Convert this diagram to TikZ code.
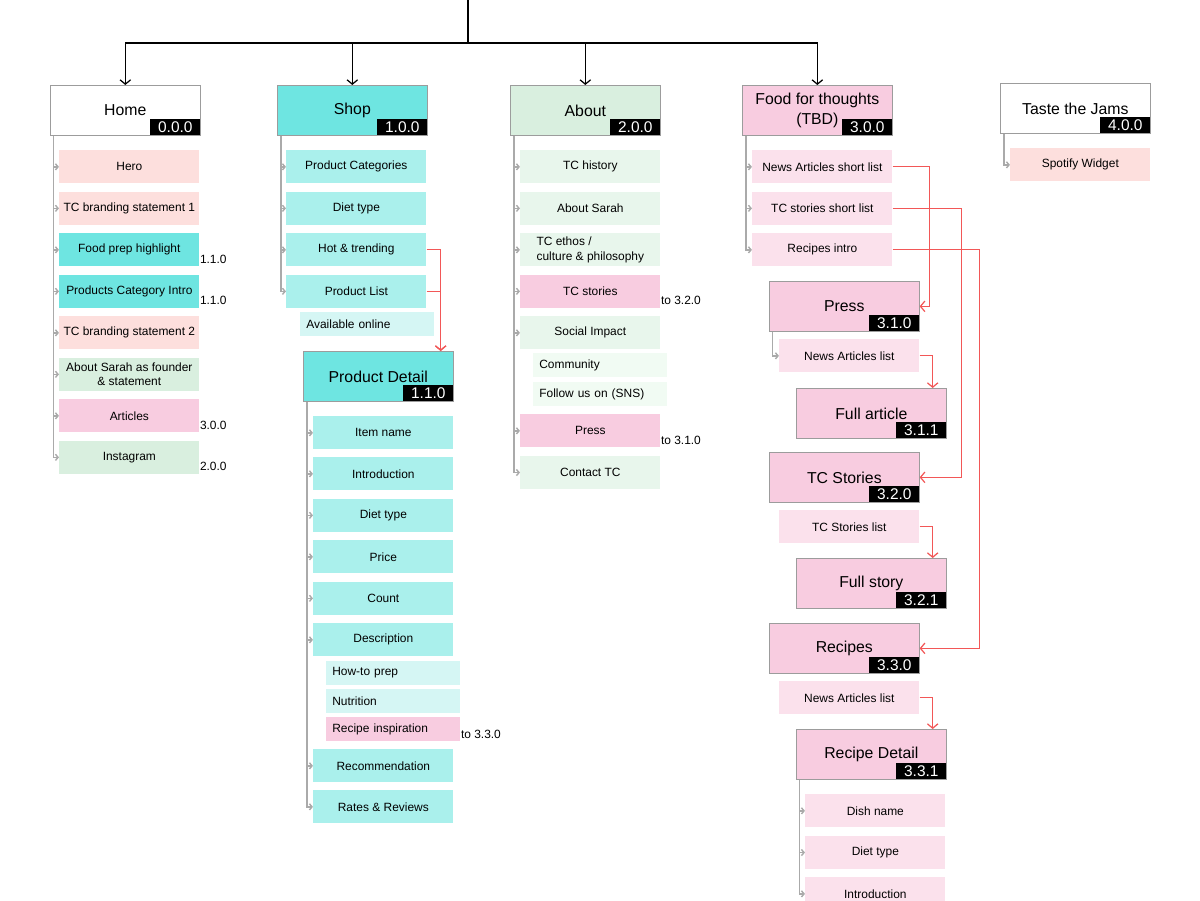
\documentclass[tikz,border=0pt]{standalone}
\usepackage{fontspec}
\setmainfont{Liberation Sans}
\usetikzlibrary{arrows.meta}
\definecolor{boxgray}{HTML}{9C9C9C}
\definecolor{treegray}{HTML}{AAAAAA}
\definecolor{linkred}{HTML}{F25757}
\definecolor{salmon}{HTML}{FDDFDD}
\definecolor{pinkH}{HTML}{F8CCE0}
\definecolor{pinkL}{HTML}{FBE1EC}
\definecolor{cyanH}{HTML}{6EE5E1}
\definecolor{cyanL}{HTML}{AAF0EC}
\definecolor{cyanP}{HTML}{D5F6F4}
\definecolor{greenH}{HTML}{D9EFDF}
\definecolor{greenL}{HTML}{E8F6EC}
\definecolor{greenP}{HTML}{F1FBF3}

\begin{document}
\begin{tikzpicture}[x=0.02cm,y=-0.02cm,
    page/.style={draw=boxgray, minimum width=3cm, minimum height=1cm, inner sep=0pt, anchor=north west, font=\fontsize{9}{11}\selectfont},
    ver/.style={fill=black, text=white, minimum width=1cm, minimum height=0.32cm, inner sep=0pt, anchor=south east, font=\fontsize{8.8}{9}\selectfont},
    item/.style={minimum width=2.8cm, minimum height=0.66cm, inner sep=0pt, anchor=north west, font=\fontsize{6.8}{8.2}\selectfont},
    sub/.style={minimum width=2.68cm, minimum height=0.48cm, inner xsep=0.12cm, inner ysep=0pt, text width=2.44cm, align=left, anchor=north west, font=\fontsize{6.8}{8.2}\selectfont},
    note/.style={anchor=base west, inner sep=0pt, font=\fontsize{6.8}{8.2}\selectfont},
    tree/.style={draw=treegray, line width=0.8pt, -{Straight Barb[length=1.5pt,width=3.5pt]}},
    main/.style={draw=black, line width=0.7pt, -{Straight Barb[length=2.5pt,width=6pt]}},
    link/.style={draw=linkred, line width=0.7pt, -{Straight Barb[length=2.5pt,width=6pt]}}]
    \path[use as bounding box, fill=white] (0,0) rectangle (1200,900);

    % top level pages
    \node[page] (home) at (50,85) {Home};
    \node[ver] (homeV) at (home.south east) {0.0.0};
    \node[page, fill=cyanH] (shop) at (277,85) {Shop};
    \node[ver] (shopV) at (shop.south east) {1.0.0};
    \node[page, fill=greenH] (about) at (510,85) {About};
    \node[ver] (aboutV) at (about.south east) {2.0.0};
    \node[page, fill=pinkH, align=center] (food) at (742,85) {Food for thoughts\\(TBD)};
    \node[ver] (foodV) at (food.south east) {3.0.0};
    \node[page] (jams) at (1000,83) {Taste the Jams};
    \node[ver] (jamsV) at (jams.south east) {4.0.0};

    \coordinate (top) at (468,0);
    \coordinate (bus) at (468,43);
    \draw[line width=0.7pt] (top) -- (bus);
    \foreach \n in {home,shop,about,food}
        \draw[main] (bus) -| (\n.north);

    % Home
    \node[item, fill=salmon] (hero) at (59,150) {Hero};
    \node[item, fill=salmon] (tcbOne) at (59,191.5) {TC branding statement 1};
    \node[item, fill=cyanH] (fprep) at (59,233) {Food prep highlight};
    \node[item, fill=cyanH] (pcat) at (59,274.5) {Products Category Intro};
    \node[item, fill=salmon] (tcbTwo) at (59,316) {TC branding statement 2};
    \node[item, fill=greenH, align=center] (founder) at (59,357.5) {About Sarah as founder\\\& statement};
    \node[item, fill=pinkH] (articles) at (59,399) {Articles};
    \node[item, fill=greenH] (insta) at (59,440.5) {Instagram};
    \node[note] (fprepN) at ([yshift=0.07cm]fprep.south east) {1.1.0};
    \node[note] (pcatN) at ([yshift=0.07cm]pcat.south east) {1.1.0};
    \node[note] (articlesN) at ([yshift=0.07cm]articles.south east) {3.0.0};
    \node[note] (instaN) at ([yshift=0.07cm]insta.south east) {2.0.0};
    \foreach \n in {hero,tcbOne,fprep,pcat,tcbTwo,founder,articles,insta}
        \draw[tree] ([xshift=0.07cm]home.south west) |- (\n.west);

    % Shop
    \node[item, fill=cyanL] (pcats) at (286,150) {Product Categories};
    \node[item, fill=cyanL] (sdiet) at (286,191.5) {Diet type};
    \node[item, fill=cyanL] (hot) at (286,233) {Hot \& trending};
    \node[item, fill=cyanL] (plist) at (286,274.5) {Product List};
    \node[sub, fill=cyanP] (avail) at (300,312) {Available online};
    \foreach \n in {pcats,sdiet,hot,plist}
        \draw[tree] ([xshift=0.08cm]shop.south west) |- (\n.west);

    % Product Detail
    \node[page, fill=cyanH] (pdetail) at (303,351) {Product Detail};
    \node[ver] (pdetailV) at (pdetail.south east) {1.1.0};
    \node[item, fill=cyanL] (iname) at (313,416) {Item name};
    \node[item, fill=cyanL] (intro) at (313,457) {Introduction};
    \node[item, fill=cyanL] (pdiet) at (313,498.5) {Diet type};
    \node[item, fill=cyanL] (price) at (313,540) {Price};
    \node[item, fill=cyanL] (count) at (313,581.5) {Count};
    \node[item, fill=cyanL] (desc) at (313,623) {Description};
    \node[sub, fill=cyanP] (howto) at (326,660.5) {How-to prep};
    \node[sub, fill=cyanP] (nutri) at (326,688.7) {Nutrition};
    \node[sub, fill=pinkH] (rinsp) at (326,716.7) {Recipe inspiration};
    \node[item, fill=cyanL] (recom) at (313,749) {Recommendation};
    \node[item, fill=cyanL] (rates) at (313,790) {Rates \& Reviews};
    \node[note] (rinspN) at ([yshift=0.05cm]rinsp.south east) {to 3.3.0};
    \foreach \n in {iname,intro,pdiet,price,count,desc,recom,rates}
        \draw[tree] ([xshift=0.08cm]pdetail.south west) |- (\n.west);
    \draw[link] (hot.east) -| ([xshift=-0.26cm]pdetail.north east);
    \draw[link] (plist.east) -| ([xshift=-0.26cm]pdetail.north east);

    % About
    \node[item, fill=greenL] (hist) at (520,150) {TC history};
    \node[item, fill=greenL] (asarah) at (520,191.5) {About Sarah};
    \node[item, fill=greenL, align=left] (ethos) at (520,233) {TC ethos /\\culture \& philosophy};
    \node[item, fill=pinkH] (tcst) at (520,274.5) {TC stories};
    \node[item, fill=greenL] (social) at (520,316) {Social Impact};
    \node[sub, fill=greenP] (community) at (533,353) {Community};
    \node[sub, fill=greenP] (follow) at (533,381.7) {Follow us on (SNS)};
    \node[item, fill=pinkH] (apress) at (520,414) {Press};
    \node[item, fill=greenL] (contact) at (520,455.7) {Contact TC};
    \node[note] (tcstN) at ([yshift=0.07cm]tcst.south east) {to 3.2.0};
    \node[note] (apressN) at ([yshift=0.07cm]apress.south east) {to 3.1.0};
    \foreach \n in {hist,asarah,ethos,tcst,social,apress,contact}
        \draw[tree] ([xshift=0.08cm]about.south west) |- (\n.west);

    % Food for thoughts
    \node[item, fill=pinkL] (nshort) at (752,150) {News Articles short list};
    \node[item, fill=pinkL] (tshort) at (752,191.5) {TC stories short list};
    \node[item, fill=pinkL] (rintroF) at (752,233) {Recipes intro};
    \foreach \n in {nshort,tshort,rintroF}
        \draw[tree] ([xshift=0.08cm]food.south west) |- (\n.west);

    \node[page, fill=pinkH] (press) at (769,281) {Press};
    \node[ver] (pressV) at (press.south east) {3.1.0};
    \node[item, fill=pinkL] (nlist) at (779,339) {News Articles list};
    \draw[tree] ([xshift=0.07cm]press.south west) |- (nlist.west);
    \node[page, fill=pinkH] (fullart) at (796,388) {Full article};
    \node[ver] (fullartV) at (fullart.south east) {3.1.1};

    \node[page, fill=pinkH] (tcstories) at (769,452) {TC Stories};
    \node[ver] (tcstoriesV) at (tcstories.south east) {3.2.0};
    \node[item, fill=pinkL] (tlist) at (779,510) {TC Stories list};
    \node[page, fill=pinkH] (fullstory) at (796,558) {Full story};
    \node[ver] (fullstoryV) at (fullstory.south east) {3.2.1};

    \node[page, fill=pinkH] (recipes) at (769,623) {Recipes};
    \node[ver] (recipesV) at (recipes.south east) {3.3.0};
    \node[item, fill=pinkL] (nlistB) at (779,681) {News Articles list};
    \node[page, fill=pinkH] (rdetail) at (796,729) {Recipe Detail};
    \node[ver] (rdetailV) at (rdetail.south east) {3.3.1};
    \node[item, fill=pinkL] (dish) at (805,794) {Dish name};
    \node[item, fill=pinkL] (rdiet) at (805,835.7) {Diet type};
    \node[item, fill=pinkL] (rintro) at (805,877) {Introduction};
    \foreach \n in {dish,rdiet,rintro}
        \draw[tree] ([xshift=0.07cm]rdetail.south west) |- (\n.west);

    \draw[link] (nshort.east) -| ([xshift=0.2cm]press.east) -- (press.east);
    \draw[link] (tshort.east) -| ([xshift=0.84cm]tcstories.east) -- (tcstories.east);
    \draw[link] (rintroF.east) -| ([xshift=1.2cm]recipes.east) -- (recipes.east);
    \draw[link] (nlist.east) -| ([xshift=-0.28cm]fullart.north east);
    \draw[link] (tlist.east) -| ([xshift=-0.28cm]fullstory.north east);
    \draw[link] (nlistB.east) -| ([xshift=-0.28cm]rdetail.north east);

    % Taste the Jams
    \node[item, fill=salmon] (spot) at (1010,148) {Spotify Widget};
    \draw[tree] ([xshift=0.08cm]jams.south west) |- (spot.west);
\end{tikzpicture}
\end{document}
